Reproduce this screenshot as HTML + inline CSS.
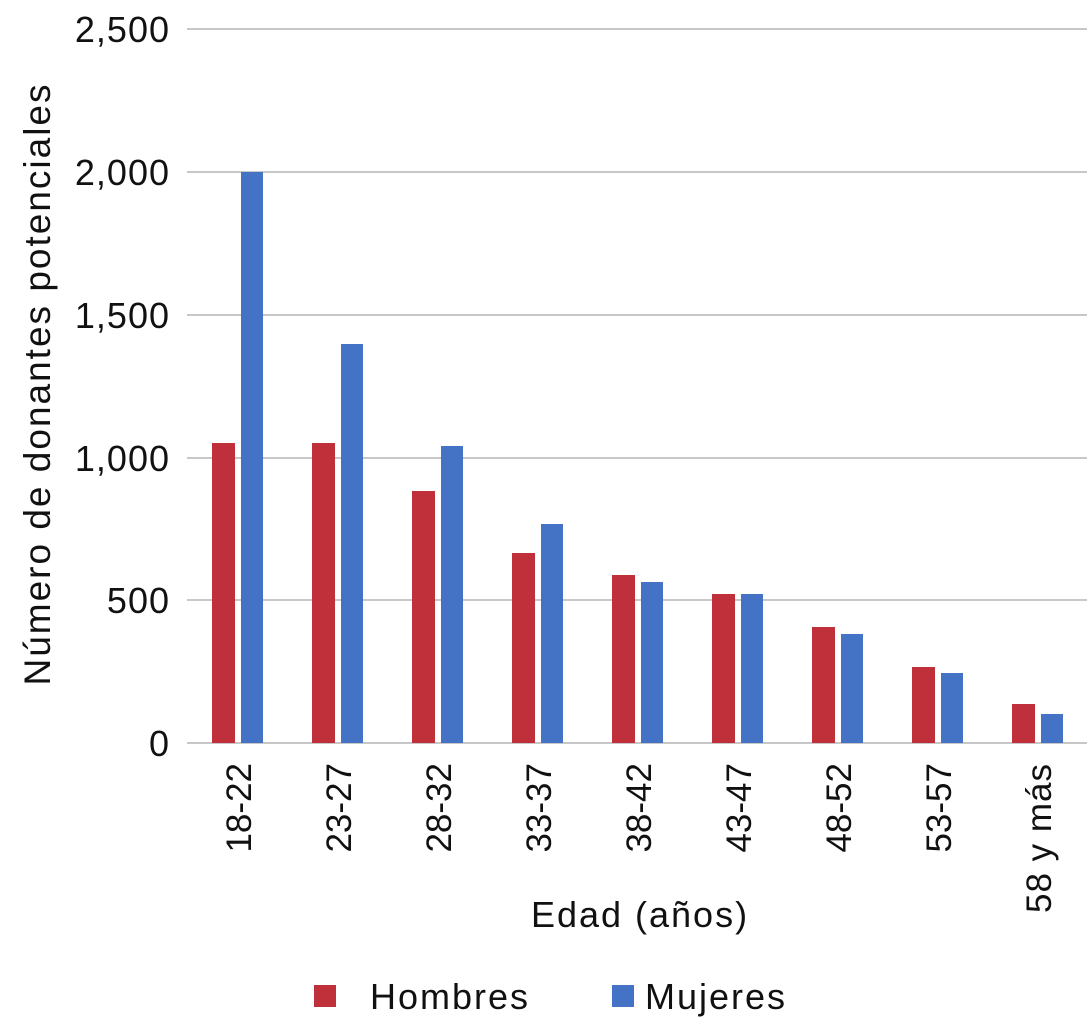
<!DOCTYPE html>
<html><head><meta charset="utf-8"><style>
body{margin:0;background:#fff}
svg text{font-family:"Liberation Sans",sans-serif;fill:#111}
</style></head><body>
<svg width="1089" height="1024" xmlns="http://www.w3.org/2000/svg">
<g stroke="#c8c8c8" stroke-width="2">
<line x1="187" x2="1087" y1="29" y2="29"/><line x1="187" x2="1087" y1="172" y2="172"/>
<line x1="187" x2="1087" y1="315" y2="315"/><line x1="187" x2="1087" y1="458" y2="458"/>
<line x1="187" x2="1087" y1="600" y2="600"/><line x1="187" x2="1087" y1="743" y2="743"/>
</g>
<g font-size="36" text-anchor="end" letter-spacing="1">
<text x="170" y="42">2,500</text><text x="170" y="185">2,000</text>
<text x="170" y="328">1,500</text><text x="170" y="471">1,000</text>
<text x="170" y="613">500</text><text x="170" y="756">0</text>
</g>
<g fill="#C0303A">
<rect x="212" y="443" width="23" height="300"/><rect x="312" y="443" width="23" height="300"/>
<rect x="412" y="491" width="23" height="252"/><rect x="512" y="553" width="23" height="190"/>
<rect x="612" y="575" width="23" height="168"/><rect x="712" y="594" width="23" height="149"/>
<rect x="812" y="627" width="23" height="116"/><rect x="912" y="667" width="23" height="76"/>
<rect x="1012" y="704" width="23" height="39"/>
</g>
<g fill="#4472C4">
<rect x="241" y="172" width="22" height="571"/><rect x="341" y="344" width="22" height="399"/>
<rect x="441" y="446" width="22" height="297"/><rect x="541" y="524" width="22" height="219"/>
<rect x="641" y="582" width="22" height="161"/><rect x="741" y="594" width="22" height="149"/>
<rect x="841" y="634" width="22" height="109"/><rect x="941" y="673" width="22" height="70"/>
<rect x="1041" y="714" width="22" height="29"/>
</g>
<g font-size="35" text-anchor="end">
<text transform="translate(251,763) rotate(-90)">18-22</text>
<text transform="translate(351,763) rotate(-90)">23-27</text>
<text transform="translate(451,763) rotate(-90)">28-32</text>
<text transform="translate(551,763) rotate(-90)">33-37</text>
<text transform="translate(651,763) rotate(-90)">38-42</text>
<text transform="translate(751,763) rotate(-90)">43-47</text>
<text transform="translate(851,763) rotate(-90)">48-52</text>
<text transform="translate(951,763) rotate(-90)">53-57</text>
<text transform="translate(1051,763) rotate(-90)" letter-spacing="1">58 y más</text>
</g>
<text transform="translate(50,384) rotate(-90)" font-size="37" text-anchor="middle" letter-spacing="2">Número de donantes potenciales</text>
<text x="640" y="927" font-size="36" text-anchor="middle" letter-spacing="2">Edad (años)</text>
<rect x="314" y="985" width="22" height="22" fill="#C0303A"/>
<text x="370" y="1009" font-size="36" letter-spacing="2">Hombres</text>
<rect x="612" y="985" width="22" height="22" fill="#4472C4"/>
<text x="645" y="1009" font-size="36" letter-spacing="2">Mujeres</text>
</svg>
</body></html>
